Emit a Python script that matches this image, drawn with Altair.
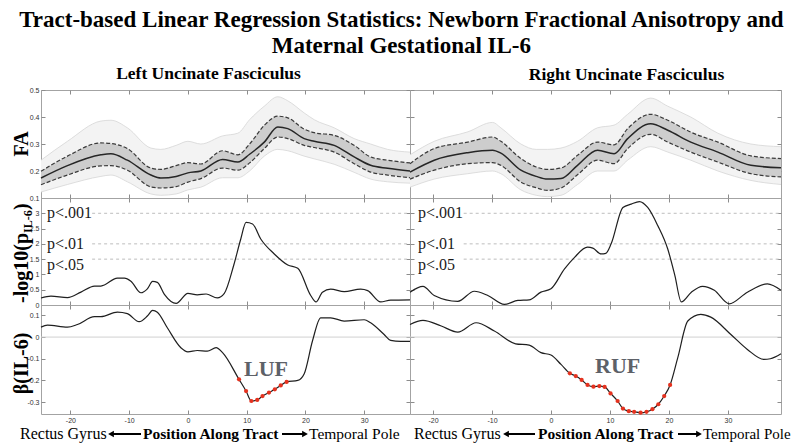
import altair as alt
import pandas as pd

SERIF = "Liberation Serif"
SANS = "Liberation Sans"

# ---------------- data ----------------
X_TICKS = [-20, -10, 0, 10, 20, 30]
FA_TICKS = [0.1, 0.2, 0.3, 0.4, 0.5]
P_TICKS = [0, 0.5, 1, 1.5, 2, 2.5, 3]
B_TICKS = [-0.3, -0.2, -0.1, 0, 0.1]

X_DOMAIN_LEFT = [-25, 37.8]
X_DOMAIN_RIGHT = [-23.9, 39]
FA_DOMAIN = [0.1, 0.5]
P_DOMAIN = [0, 3.5]
B_DOMAIN = [-0.355, 0.148]

# Left uncinate: FA profile (mean, +/- SD, subject envelope)
FA_L_X = [-25, -20.5, -14.8, -13.1, -10.3, -6.3, -4.6, -2, 0, 2.2, 5.9, 8.5, 10.5, 13, 15.3, 17,
          19.8, 21.5, 24.9, 28.3, 31.1, 34, 37.8]
FA_L_MEAN = [0.174, 0.22, 0.26, 0.264, 0.24, 0.185, 0.174, 0.18, 0.193, 0.2, 0.243, 0.233, 0.262,
             0.307, 0.363, 0.357, 0.32, 0.31, 0.295, 0.252, 0.221, 0.21, 0.2]
FA_L_UP = [0.199, 0.255, 0.304, 0.302, 0.283, 0.211, 0.206, 0.22, 0.231, 0.226, 0.275, 0.26, 0.3,
           0.369, 0.403, 0.397, 0.355, 0.342, 0.332, 0.295, 0.252, 0.24, 0.23]
FA_L_LO = [0.149, 0.185, 0.219, 0.22, 0.203, 0.141, 0.137, 0.142, 0.159, 0.172, 0.211, 0.203, 0.23,
           0.283, 0.326, 0.32, 0.295, 0.287, 0.27, 0.227, 0.196, 0.185, 0.175]
FA_L_HI = [0.24, 0.31, 0.385, 0.388, 0.36, 0.285, 0.28, 0.295, 0.31, 0.3, 0.33, 0.34, 0.39, 0.44,
           0.475, 0.46, 0.415, 0.39, 0.36, 0.32, 0.3, 0.28, 0.27]
FA_L_MIN = [0.122, 0.15, 0.18, 0.185, 0.16, 0.115, 0.11, 0.115, 0.13, 0.14, 0.175, 0.175, 0.2, 0.255,
            0.28, 0.275, 0.255, 0.245, 0.225, 0.195, 0.17, 0.16, 0.155]

# Right uncinate: FA profile
FA_R_X = [-23.9, -19.8, -14.1, -9.9, -8.5, -5.1, -2.5, -0.6, 1.7, 4.5, 7.9, 10.7, 13, 16.9, 19.8,
          23.7, 28.3, 33.9, 39]
FA_R_MEAN = [0.196, 0.24, 0.268, 0.277, 0.266, 0.203, 0.18, 0.17, 0.172, 0.221, 0.277, 0.264, 0.32,
             0.375, 0.351, 0.307, 0.27, 0.221, 0.212]
FA_R_UP = [0.227, 0.283, 0.307, 0.326, 0.31, 0.246, 0.215, 0.206, 0.211, 0.258, 0.307, 0.297, 0.357,
           0.41, 0.388, 0.344, 0.307, 0.256, 0.246]
FA_R_LO = [0.17, 0.203, 0.227, 0.231, 0.221, 0.159, 0.138, 0.128, 0.137, 0.186, 0.24, 0.227, 0.283,
           0.336, 0.307, 0.27, 0.233, 0.19, 0.178]
FA_R_HI = [0.26, 0.31, 0.345, 0.38, 0.36, 0.3, 0.28, 0.28, 0.285, 0.31, 0.36, 0.37, 0.41, 0.47, 0.44,
           0.4, 0.34, 0.3, 0.29]
FA_R_MIN = [0.14, 0.17, 0.19, 0.2, 0.19, 0.13, 0.11, 0.105, 0.11, 0.15, 0.2, 0.2, 0.24, 0.29, 0.27,
            0.24, 0.2, 0.165, 0.15]

# -log10(p) profiles
P_L_X = [-25, -23.3, -20.5, -18.2, -15.9, -14.8, -12, -10.8, -9.7, -8, -6.9, -6, -5.2, -4, -2, 0,
         1.6, 3.1, 5, 6.2, 7.8, 9, 9.9, 11, 12.4, 14.7, 17, 18.7, 20.9, 21.8, 22.9, 24.3, 26.6,
         29.4, 30.6, 32.8, 34.5, 37.8]
P_L_Y = [0.23, 0.29, 0.24, 0.42, 0.62, 0.62, 0.88, 0.88, 0.78, 0.40, 0.53, 0.77, 0.74, 0.35, 0.05,
         0.38, 0.33, 0.36, 0.23, 0.38, 1.30, 2.16, 2.70, 2.65, 2.16, 1.67, 1.31, 1.20, 0.31, 0.10,
         0.42, 0.52, 0.44, 0.52, 0.47, 0.10, 0.16, 0.17]
P_R_X = [-23.9, -21.7, -19.8, -15.8, -13, -10.7, -7.9, -5.6, -3.7, -1.7, 0, 2.3, 4, 6.2, 7.1, 8.5,
         9.3, 10.2, 12.2, 13.6, 15, 16.4, 18.1, 19.8, 21, 22.1, 23.8, 25.7, 27.7, 30.2, 33.3, 36.7, 39]
P_R_Y = [0.42, 0.61, 0.31, 0.12, 0.45, 0.31, 0.02, 0.15, 0.17, 0.42, 0.53, 1.18, 1.56, 1.89, 1.86,
         1.67, 1.69, 2.0, 3.19, 3.30, 3.38, 3.19, 2.6, 1.83, 0.97, 0.1, 0.42, 0.61, 0.48, 0.04,
         0.42, 0.69, 0.48]

P_LINES = [3, 2, 1.5]
P_LABELS = ["p<.001", "p<.01", "p<.05"]
P_LABEL_Y = [3.0, 2.0, 1.3]
P_LINE_START_LEFT = -16.3
P_LINE_START_RIGHT = -14.8

# beta(IL-6) profiles
B_L_X = [-25, -23.9, -20.5, -18.8, -15.9, -14.8, -12, -10.3, -8.3, -6.9, -6, -5.2, -3.5, -1.2, 0,
         1.6, 3.3, 4.8, 5.9, 8.7, 9.9, 10.8, 11.8, 12.7, 13.8, 14.8, 15.8, 16.8, 18.7, 19.8, 21.2,
         22.6, 24.3, 26.6, 30, 31.1, 33.4, 34.5, 36.2, 37.8]
B_L_Y = [0.046, 0.055, 0.046, 0.058, 0.094, 0.094, 0.115, 0.108, 0.071, 0.097, 0.123, 0.115, 0.043,
         -0.049, -0.068, -0.062, -0.065, -0.049, -0.072, -0.195, -0.249, -0.295, -0.29, -0.272,
         -0.256, -0.241, -0.223, -0.207, -0.2, -0.169, -0.018, 0.089, 0.089, 0.074, 0.08, 0.066,
         0.012, -0.015, -0.02, -0.02]
SIG_L_X = [8.7, 9.9, 10.8, 11.8, 12.7, 13.8, 14.8, 15.8, 16.8]
SIG_L_Y = [-0.195, -0.249, -0.295, -0.29, -0.272, -0.256, -0.241, -0.223, -0.207]

B_R_X = [-23.9, -21.7, -18.6, -15.8, -12.7, -9.6, -6, -3.7, -1.7, 0, 1.7, 3.2, 4.2, 5.2, 6.2, 7.2,
         8.2, 9.1, 10.1, 11.3, 12.2, 13.2, 14.1, 15.2, 16.2, 17.2, 18.2, 19.2, 20.2, 21.5, 23.2,
         25.4, 27.1, 30.5, 33.3, 36.1, 37.2, 39]
B_R_Y = [0.058, 0.077, 0.051, 0.023, 0.066, 0.028, -0.031, -0.037, -0.072, -0.083, -0.126, -0.167,
         -0.18, -0.198, -0.221, -0.229, -0.226, -0.23, -0.26, -0.295, -0.33, -0.342, -0.345,
         -0.349, -0.345, -0.333, -0.31, -0.272, -0.221, -0.095, 0.074, 0.105, 0.092, 0.012,
         -0.057, -0.103, -0.1, -0.077]
SIG_R_X = [3.2, 4.2, 5.2, 6.2, 7.2, 8.2, 9.1, 10.1, 11.3, 12.2, 13.2, 14.1, 15.2, 16.2, 17.2, 18.2,
           19.2, 20.2]
SIG_R_Y = [-0.167, -0.18, -0.198, -0.221, -0.229, -0.226, -0.23, -0.26, -0.295, -0.33, -0.342,
           -0.345, -0.349, -0.345, -0.333, -0.31, -0.272, -0.221]

TRACT_LABEL = ["LUF", "RUF"]
TRACT_LABEL_X = [13.3, 11.3]
TRACT_LABEL_Y = [-0.147, -0.134]

PANEL_TITLES = ["Left Uncinate Fasciculus", "Right Uncinate Fasciculus"]
MAIN_TITLE = ["Tract-based Linear Regression Statistics: Newborn Fractional Anisotropy and",
              "Maternal Gestational IL-6"]
CAPTION = ["Rectus Gyrus", "Position Along Tract", "Temporal Pole"]

W_L, W_R = 369, 371
H_TOP, H_MID, H_BOT = 108, 107, 109

LABEL_EXPR = "datum.value < 0 ? '-' + format(-datum.value, '~g') : format(datum.value, '~g')"


def scale(dom):
    return alt.Scale(domain=dom, nice=False, zero=False)


def tick_axis(orient, values, labels, pad=2):
    return alt.Axis(orient=orient, values=values, offset=-4, tickSize=4, tickColor="#8c8c8c",
                    tickWidth=1, domain=False, grid=False, labels=labels, title=None,
                    labelFont=SANS, labelFontSize=7, labelColor="#333333", labelPadding=pad,
                    labelExpr=LABEL_EXPR)


def frame_layers(xdom, ydom, yticks, ylabels, xlabels):
    df = pd.DataFrame({"x": xdom, "y": ydom})
    a = alt.Chart(df).mark_point(opacity=0).encode(
        x=alt.X("x:Q", scale=scale(xdom), axis=tick_axis("bottom", X_TICKS, xlabels, 2)),
        y=alt.Y("y:Q", scale=scale(ydom), axis=tick_axis("left", yticks, ylabels)))
    b = alt.Chart(df).mark_point(opacity=0).encode(
        x=alt.X("x:Q", scale=scale(xdom), axis=tick_axis("top", X_TICKS, False)),
        y=alt.Y("y:Q", scale=scale(ydom), axis=tick_axis("right", yticks, False)))
    return [a, b]


def ytitle(text, y, size=20):
    return alt.Chart(pd.DataFrame({"t": [text]})).mark_text(
        angle=270, font=SERIF, fontSize=size, fontWeight="bold", color="black",
        align="center", baseline="middle").encode(
        x=alt.value(-19), y=alt.value(y), text="t:N")


def fa_panel(xs, mean, up, lo, hi, mn, xdom, w, left, title, dx):
    df = pd.DataFrame(dict(x=xs, mean=mean, up=up, lo=lo, hi=hi, mn=mn))
    X = alt.X("x:Q", scale=scale(xdom), axis=None)

    def Y(f):
        return alt.Y(f + ":Q", scale=scale(FA_DOMAIN), axis=None)

    base = alt.Chart(df)
    layers = frame_layers(xdom, FA_DOMAIN, FA_TICKS, left, False) + [
        base.mark_area(color="#f3f3f3", interpolate="monotone").encode(x=X, y=Y("hi"), y2="mn:Q"),
        base.mark_area(color="#cdcdcd", interpolate="monotone").encode(x=X, y=Y("up"), y2="lo:Q"),
        base.mark_line(color="#d6d6d6", strokeWidth=0.8, interpolate="monotone").encode(x=X, y=Y("hi")),
        base.mark_line(color="#d6d6d6", strokeWidth=0.8, interpolate="monotone").encode(x=X, y=Y("mn")),
        base.mark_line(color="#3a3a3a", strokeWidth=1.2, strokeDash=[4, 2],
                       interpolate="monotone").encode(x=X, y=Y("up")),
        base.mark_line(color="#3a3a3a", strokeWidth=1.2, strokeDash=[4, 2],
                       interpolate="monotone").encode(x=X, y=Y("lo")),
        base.mark_line(color="#262626", strokeWidth=1.5, interpolate="monotone").encode(x=X, y=Y("mean")),
    ]
    if left:
        layers.append(ytitle("FA", H_TOP / 2))
    return alt.layer(*layers).resolve_axis(x="independent", y="independent").properties(
        width=w, height=H_TOP,
        title=alt.TitleParams(title, font=SERIF, fontSize=17.5, fontWeight="bold", color="black",
                              dx=dx, offset=4))


def p_panel(xs, ys, xdom, w, left, line_start, label_x):
    df = pd.DataFrame({"x": xs, "y": ys})
    X = alt.X("x:Q", scale=scale(xdom), axis=None)
    Yq = alt.Y("y:Q", scale=scale(P_DOMAIN), axis=None)
    thr = pd.DataFrame({"y": P_LINES, "x": [line_start] * len(P_LINES),
                        "x2": [xdom[1]] * len(P_LINES)})
    labs = pd.DataFrame({"y": P_LABEL_Y, "t": P_LABELS})
    layers = frame_layers(xdom, P_DOMAIN, P_TICKS, left, False) + [
        alt.Chart(thr).mark_rule(color="#bdbdbd", strokeWidth=1, strokeDash=[3, 3]).encode(
            x=X, x2="x2:Q", y=Yq),
        alt.Chart(labs).mark_text(font=SERIF, fontSize=16, color="#1a1a1a", align="left",
                                  baseline="middle").encode(x=alt.value(label_x), y=Yq, text="t:N"),
        alt.Chart(df).mark_line(color="#1f1f1f", strokeWidth=1.2, interpolate="monotone").encode(x=X, y=Yq),
    ]
    if left:
        pieces = [("-log10(p", 20, -19, 105), ("IL-6", 12, -13, 35), (")", 20, -19, 12)]
        for txt, size, xx, yy in pieces:
            layers.append(alt.Chart(pd.DataFrame({"t": [txt]})).mark_text(
                angle=270, font=SERIF, fontSize=size, fontWeight="bold", color="black",
                align="left", baseline="middle").encode(x=alt.value(xx), y=alt.value(yy), text="t:N"))
    return alt.layer(*layers).resolve_axis(x="independent", y="independent").properties(
        width=w, height=H_MID)


def arrow(x_tail, x_head, y):
    one = pd.DataFrame({"a": [0]})
    shaft = alt.Chart(one).mark_rule(color="black", strokeWidth=2).encode(
        x=alt.value(min(x_tail, x_head) + (4 if x_head < x_tail else 0)),
        x2=alt.value(max(x_tail, x_head) - (4 if x_head > x_tail else 0)),
        y=alt.value(y))
    head = alt.Chart(one).mark_point(filled=True, color="black", opacity=1, size=45).encode(
        x=alt.value(x_head + (3 if x_head < x_tail else -3)), y=alt.value(y),
        shape=alt.value("triangle-left" if x_head < x_tail else "triangle-right"))
    return [shaft, head]


def b_panel(xs, ys, sx, sy, xdom, w, left, k, pos, tp_size):
    df = pd.DataFrame({"x": xs, "y": ys})
    sig = pd.DataFrame({"x": sx, "y": sy})
    X = alt.X("x:Q", scale=scale(xdom), axis=None)
    Yq = alt.Y("y:Q", scale=scale(B_DOMAIN), axis=None)
    lab = pd.DataFrame({"x": [TRACT_LABEL_X[k]], "y": [TRACT_LABEL_Y[k]], "t": [TRACT_LABEL[k]]})
    layers = frame_layers(xdom, B_DOMAIN, B_TICKS, left, True) + [
        alt.Chart(pd.DataFrame({"y": [0]})).mark_rule(color="#d0d0d0", strokeWidth=1).encode(y=Yq),
        alt.Chart(df).mark_line(color="#1f1f1f", strokeWidth=1.2, interpolate="monotone").encode(x=X, y=Yq),
        alt.Chart(sig).mark_point(filled=True, color="#e5321f", size=18, opacity=1).encode(x=X, y=Yq),
        alt.Chart(lab).mark_text(font=SERIF, fontSize=22, fontWeight="bold", color="#5d6168",
                                 align="center", baseline="middle").encode(x=X, y=Yq, text="t:N"),
    ]
    # caption under the panel: Rectus Gyrus <-- Position Along Tract --> Temporal Pole
    yb = 134
    rg, a1, a1e, pt, a2, a2e, tp = pos
    cap = [
        (CAPTION[0], 16, "normal", rg),
        (CAPTION[1], 15.5, "bold", pt),
        (CAPTION[2], tp_size, "normal", tp),
    ]
    for txt, size, weight, xx in cap:
        layers.append(alt.Chart(pd.DataFrame({"t": [txt]})).mark_text(
            font=SERIF, fontSize=size, fontWeight=weight, color="black", align="left",
            baseline="alphabetic").encode(x=alt.value(xx), y=alt.value(yb), text="t:N"))
    layers += arrow(a1e, a1, yb - 5)
    layers += arrow(a2, a2e, yb - 5)
    if left:
        layers.append(ytitle("\u03b2(IL-6)", H_BOT / 2 + 4))
    return alt.layer(*layers).resolve_axis(x="independent", y="independent").properties(
        width=w, height=H_BOT)


fa_l = fa_panel(FA_L_X, FA_L_MEAN, FA_L_UP, FA_L_LO, FA_L_HI, FA_L_MIN, X_DOMAIN_LEFT, W_L, True,
                PANEL_TITLES[0], -17)
fa_r = fa_panel(FA_R_X, FA_R_MEAN, FA_R_UP, FA_R_LO, FA_R_HI, FA_R_MIN, X_DOMAIN_RIGHT, W_R, False,
                PANEL_TITLES[1], 31)
p_l = p_panel(P_L_X, P_L_Y, X_DOMAIN_LEFT, W_L, True, P_LINE_START_LEFT, 6)
p_r = p_panel(P_R_X, P_R_Y, X_DOMAIN_RIGHT, W_R, False, P_LINE_START_RIGHT, 8)
b_l = b_panel(B_L_X, B_L_Y, SIG_L_X, SIG_L_Y, X_DOMAIN_LEFT, W_L, True, 0,
              (-21, 67, 100, 102, 241, 267, 268), 15.5)
b_r = b_panel(B_R_X, B_R_Y, SIG_R_X, SIG_R_Y, X_DOMAIN_RIGHT, W_R, False, 1,
              (4, 93, 125, 128, 268, 292, 293), 15)

chart = alt.concat(fa_l, fa_r, p_l, p_r, b_l, b_r, columns=2, spacing=0).properties(
    title=alt.TitleParams(MAIN_TITLE, font=SERIF, fontSize=23, fontWeight="bold", color="black",
                          anchor="middle", lineHeight=26, offset=6),
    align="each", bounds="flush",
    padding={"left": 3, "top": 1, "right": 0, "bottom": 0},
).configure_view(stroke="#a3a3a3", strokeWidth=1)

chart.save("out.html", embed_options={"renderer": "svg", "actions": False})
